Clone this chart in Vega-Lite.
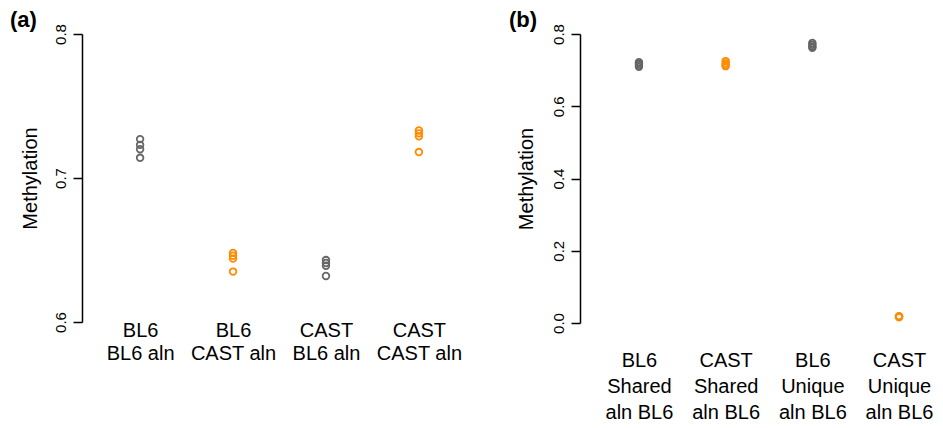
{
  "$schema": "https://vega.github.io/schema/vega-lite/v6.json",
  "padding": {"left": 10, "top": 8, "right": 0, "bottom": 0},
  "spacing": 32,
  "config": {
    "view": {"stroke": null},
    "font": "Liberation Sans",
    "axis": {"grid": false, "labelColor": "black", "titleColor": "black", "domainColor": "black", "tickColor": "black"}
  },
  "datasets": {
    "a": [
      {"group": "BL6\nBL6 aln", "series": "BL6", "methylation": 0.727},
      {"group": "BL6\nBL6 aln", "series": "BL6", "methylation": 0.723},
      {"group": "BL6\nBL6 aln", "series": "BL6", "methylation": 0.720},
      {"group": "BL6\nBL6 aln", "series": "BL6", "methylation": 0.714},
      {"group": "BL6\nCAST aln", "series": "CAST", "methylation": 0.648},
      {"group": "BL6\nCAST aln", "series": "CAST", "methylation": 0.646},
      {"group": "BL6\nCAST aln", "series": "CAST", "methylation": 0.644},
      {"group": "BL6\nCAST aln", "series": "CAST", "methylation": 0.635},
      {"group": "CAST\nBL6 aln", "series": "BL6", "methylation": 0.643},
      {"group": "CAST\nBL6 aln", "series": "BL6", "methylation": 0.641},
      {"group": "CAST\nBL6 aln", "series": "BL6", "methylation": 0.639},
      {"group": "CAST\nBL6 aln", "series": "BL6", "methylation": 0.632},
      {"group": "CAST\nCAST aln", "series": "CAST", "methylation": 0.733},
      {"group": "CAST\nCAST aln", "series": "CAST", "methylation": 0.731},
      {"group": "CAST\nCAST aln", "series": "CAST", "methylation": 0.729},
      {"group": "CAST\nCAST aln", "series": "CAST", "methylation": 0.718}
    ],
    "b": [
      {"group": "BL6\nShared\naln BL6", "series": "BL6", "methylation": 0.722},
      {"group": "BL6\nShared\naln BL6", "series": "BL6", "methylation": 0.718},
      {"group": "BL6\nShared\naln BL6", "series": "BL6", "methylation": 0.714},
      {"group": "BL6\nShared\naln BL6", "series": "BL6", "methylation": 0.709},
      {"group": "CAST\nShared\naln BL6", "series": "CAST", "methylation": 0.725},
      {"group": "CAST\nShared\naln BL6", "series": "CAST", "methylation": 0.719},
      {"group": "CAST\nShared\naln BL6", "series": "CAST", "methylation": 0.714},
      {"group": "CAST\nShared\naln BL6", "series": "CAST", "methylation": 0.711},
      {"group": "BL6\nUnique\naln BL6", "series": "BL6", "methylation": 0.775},
      {"group": "BL6\nUnique\naln BL6", "series": "BL6", "methylation": 0.770},
      {"group": "BL6\nUnique\naln BL6", "series": "BL6", "methylation": 0.765},
      {"group": "BL6\nUnique\naln BL6", "series": "BL6", "methylation": 0.762},
      {"group": "CAST\nUnique\naln BL6", "series": "CAST", "methylation": 0.019},
      {"group": "CAST\nUnique\naln BL6", "series": "CAST", "methylation": 0.018},
      {"group": "CAST\nUnique\naln BL6", "series": "CAST", "methylation": 0.017},
      {"group": "CAST\nUnique\naln BL6", "series": "CAST", "methylation": 0.016}
    ]
  },
  "hconcat": [
    {
      "data": {"name": "a"},
      "width": 395,
      "height": 288,
      "title": {"text": "(a)", "anchor": "start", "frame": "group", "fontSize": 22, "fontWeight": "bold", "color": "black", "dx": -72, "offset": -8},
      "mark": {"type": "point", "shape": "circle", "filled": false, "size": 44, "strokeWidth": 1.8, "opacity": 1},
      "encoding": {
        "x": {
          "field": "group", "type": "nominal", "sort": null,
          "scale": {"type": "point", "padding": 0.625},
          "axis": {"title": null, "domain": false, "ticks": false, "labelAngle": 0, "labelFontSize": 20, "labelLineHeight": 23, "labelBaseline": "top", "labelPadding": -2, "labelExpr": "split(datum.value, '\\n')"}
        },
        "y": {
          "field": "methylation", "type": "quantitative",
          "scale": {"domain": [0.6, 0.8], "nice": false, "zero": false},
          "axis": {"title": "Methylation", "titleFontSize": 20, "titleFontWeight": "normal", "titlePadding": 13, "values": [0.6, 0.7, 0.8], "format": ".1f", "labelAngle": -90, "labelAlign": "center", "labelBaseline": "bottom", "labelFontSize": 15, "labelPadding": 5, "tickSize": 9, "tickWidth": 1.5, "domainWidth": 1.5, "labelFlush": false}
        },
        "color": {"field": "series", "type": "nominal", "scale": {"domain": ["BL6", "CAST"], "range": ["#666666", "#ff8c00"]}, "legend": null}
      }
    },
    {
      "data": {"name": "b"},
      "width": 378,
      "height": 289,
      "title": {"text": "(b)", "anchor": "start", "frame": "group", "fontSize": 22, "fontWeight": "bold", "color": "black", "dx": -71, "offset": -8},
      "mark": {"type": "point", "shape": "circle", "filled": false, "size": 44, "strokeWidth": 1.8, "opacity": 1},
      "encoding": {
        "x": {
          "field": "group", "type": "nominal", "sort": null,
          "scale": {"type": "point", "padding": 0.68},
          "axis": {"title": null, "domain": false, "ticks": false, "labelAngle": 0, "labelFontSize": 20, "labelLineHeight": 26, "labelBaseline": "top", "labelPadding": 27, "labelExpr": "split(datum.value, '\\n')"}
        },
        "y": {
          "field": "methylation", "type": "quantitative",
          "scale": {"domain": [0, 0.8], "nice": false, "zero": false},
          "axis": {"title": "Methylation", "titleFontSize": 20, "titleFontWeight": "normal", "titlePadding": 15, "values": [0, 0.2, 0.4, 0.6, 0.8], "format": ".1f", "labelAngle": -90, "labelAlign": "center", "labelBaseline": "bottom", "labelFontSize": 15, "labelPadding": 5, "tickSize": 9, "tickWidth": 1.5, "domainWidth": 1.5, "labelFlush": false}
        },
        "color": {"field": "series", "type": "nominal", "scale": {"domain": ["BL6", "CAST"], "range": ["#666666", "#ff8c00"]}, "legend": null}
      }
    }
  ]
}
